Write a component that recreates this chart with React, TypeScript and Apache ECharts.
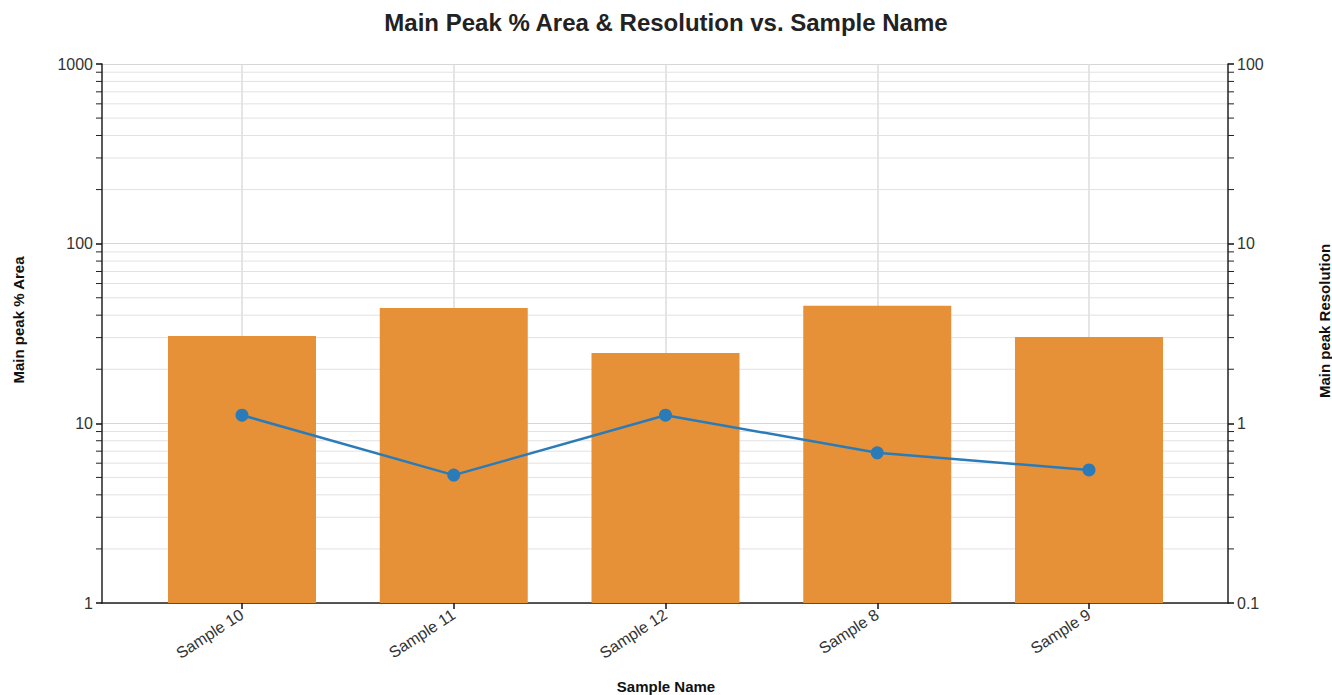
import React, { useEffect, useRef } from "react";
import * as echarts from "echarts";

const categories = ["Sample 10", "Sample 11", "Sample 12", "Sample 8", "Sample 9"];
const areaValues = [30.6, 43.8, 24.6, 45.2, 30.2];
const resolutionValues = [1.11, 0.515, 1.11, 0.685, 0.55];
const minorGridValues = [2, 3, 4, 5, 6, 7, 8, 9, 20, 30, 40, 50, 60, 70, 80, 90, 200, 300, 400, 500, 600, 700, 800, 900];

const FONT = "Liberation Sans, Arial, sans-serif";

export default function App() {
  const ref = useRef<HTMLDivElement>(null);
  useEffect(() => {
    if (!ref.current) return;
    const chart = echarts.init(ref.current, undefined, { renderer: "svg" });
    const hiddenLog = (min: number, max: number, grid: number) => ({
      type: "log",
      logBase: 10,
      min,
      max,
      gridIndex: grid,
      show: false,
      splitLine: { show: false },
    });
    const plainNum = (v: number) => String(+v.toPrecision(6));
    chart.setOption({
      animation: false,
      backgroundColor: "#fff",
      textStyle: { fontFamily: FONT },
      title: {
        text: "Main Peak % Area & Resolution vs. Sample Name",
        left: "center",
        top: 5,
        textStyle: { fontFamily: FONT, fontSize: 24, fontWeight: "bold", color: "#222" },
      },
      graphic: [
        {
          type: "text",
          x: 18,
          y: 320,
          rotation: Math.PI / 2,
          style: {
            text: "Main peak % Area",
            font: "bold 15px Liberation Sans, Arial, sans-serif",
            fill: "#111",
            align: "center",
            verticalAlign: "middle",
          },
        },
        {
          type: "text",
          x: 1324,
          y: 321,
          rotation: Math.PI / 2,
          style: {
            text: "Main peak Resolution",
            font: "bold 15px Liberation Sans, Arial, sans-serif",
            fill: "#111",
            align: "center",
            verticalAlign: "middle",
          },
        },
        {
          type: "text",
          x: 666,
          y: 686,
          style: {
            text: "Sample Name",
            font: "bold 15px Liberation Sans, Arial, sans-serif",
            fill: "#111",
            align: "center",
            verticalAlign: "middle",
          },
        },
      ],
      grid: [
        { left: 242, right: 1332 - 1089, top: 64, bottom: 92 },
        { left: 102, right: 1332 - 1228, top: 64, bottom: 92 },
      ],
      xAxis: [
        {
          type: "category",
          gridIndex: 0,
          data: categories,
          boundaryGap: false,
          axisLine: { show: false },
          axisTick: { show: true, length: 6, lineStyle: { color: "#111", width: 1.5 } },
          axisLabel: { rotate: 33, margin: 10, fontSize: 16, color: "#333", fontFamily: FONT },
          splitLine: { show: true, lineStyle: { color: "#dcdcdc", width: 1.5 } },
        },
        {
          type: "value",
          gridIndex: 1,
          min: 0,
          max: 1,
          axisLine: { show: true, onZero: false, lineStyle: { color: "#222", width: 1.5 } },
          axisTick: { show: false },
          axisLabel: { show: false },
          splitLine: { show: false },
        },
      ],
      yAxis: [
        hiddenLog(1, 1000, 0),
        hiddenLog(0.1, 100, 0),
        {
          type: "log",
          logBase: 10,
          min: 1,
          max: 1000,
          gridIndex: 1,
          position: "left",
          axisLine: { show: true, lineStyle: { color: "#222", width: 1.5 } },
          axisTick: { show: true, length: 6, lineStyle: { color: "#111", width: 1.5 } },
          axisLabel: { fontSize: 16, color: "#333", margin: 9, fontFamily: FONT, formatter: plainNum },
          splitLine: { show: true, lineStyle: { color: "#d6d6d6", width: 1.2 } },
        },
        {
          type: "log",
          logBase: 10,
          min: 0.1,
          max: 100,
          gridIndex: 1,
          position: "right",
          axisLine: { show: true, lineStyle: { color: "#222", width: 1.5 } },
          axisTick: { show: true, length: 6, lineStyle: { color: "#111", width: 1.5 } },
          axisLabel: { fontSize: 16, color: "#333", margin: 9, fontFamily: FONT, formatter: plainNum },
          splitLine: { show: false },
        },
      ],
      series: [
        {
          type: "custom",
          xAxisIndex: 1,
          yAxisIndex: 2,
          silent: true,
          clip: false,
          z: 0,
          data: minorGridValues.map((v) => [0, v]),
          encode: { x: 0, y: 1 },
          renderItem: (params: any, api: any) => {
            const cs = params.coordSys;
            const y = api.coord([0, api.value(1)])[1];
            return {
              type: "group",
              children: [
                {
                  type: "line",
                  shape: { x1: cs.x, y1: y, x2: cs.x + cs.width, y2: y },
                  style: { stroke: "#e2e2e2", lineWidth: 1 },
                },
                {
                  type: "line",
                  shape: { x1: cs.x - 6, y1: y, x2: cs.x, y2: y },
                  style: { stroke: "#222", lineWidth: 1 },
                },
                {
                  type: "line",
                  shape: { x1: cs.x + cs.width, y1: y, x2: cs.x + cs.width + 6, y2: y },
                  style: { stroke: "#222", lineWidth: 1 },
                },
              ],
            };
          },
        },
        {
          name: "Main peak % Area",
          type: "bar",
          xAxisIndex: 0,
          yAxisIndex: 0,
          data: areaValues,
          barWidth: 148,
          clip: false,
          z: 2,
          itemStyle: { color: "#E69138" },
        },
        {
          name: "Main peak Resolution",
          type: "line",
          xAxisIndex: 0,
          yAxisIndex: 1,
          data: resolutionValues,
          z: 3,
          symbol: "circle",
          symbolSize: 13,
          lineStyle: { color: "#2B7BB9", width: 2.5 },
          itemStyle: { color: "#2B7BB9" },
        },
      ],
    });
    return () => chart.dispose();
  }, []);
  return (
    <div
      ref={ref}
      style={{ position: "fixed", left: 0, top: 0, width: 1332, height: 695 }}
    />
  );
}
